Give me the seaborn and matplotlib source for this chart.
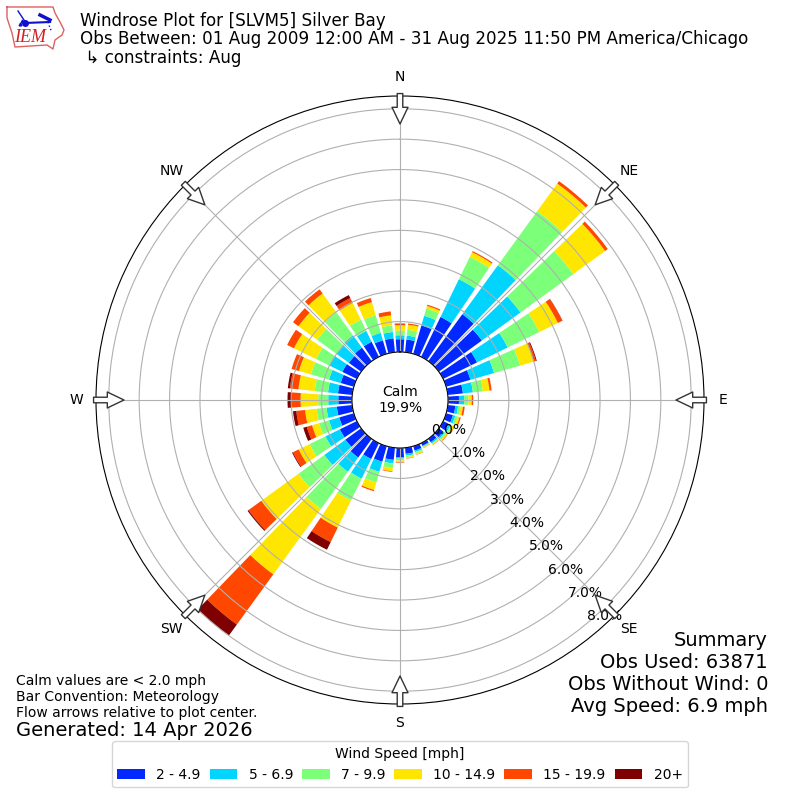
import numpy as np
import matplotlib
matplotlib.use("Agg")
import matplotlib.pyplot as plt
import seaborn as sns

# wind direction in degrees, bar every 10 deg
directions = np.arange(0, 360, 10)

# cumulative percent at the outer end of each speed bin
upto_5 = [.42, .42, .97, 1.46, 1.91, 1.75, 1.24, .83, .5, .36, .25, .23, .2, .18, .14, .1, .15, .2,
          .3, .4, .53, .58, .76, .64, .62, .5, .51, .45, .47, .45, .53, .5, .55, .55, .46, .46]
upto_7 = [.55, .55, 1.3, 2.84, 3.9, 3.32, 2.36, 1.64, .83, .53, .34, .31, .28, .24, .19, .13, .2, .26,
          .35, .52, .88, 1.3, 1.34, 1.5, 1.15, .85, .85, .78, .8, .85, 1.02, 1.0, 1.05, .95, .72, .67]
upto_10 = [.7, .74, 1.55, 3.66, 6.1, 5.47, 3.52, 2.53, 1.16, .67, .42, .39, .34, .3, .22, .15, .25, .31,
           .41, .67, 1.24, 2.1, 2.85, 2.55, 1.73, 1.19, 1.18, 1.11, 1.24, 1.47, 1.49, 1.79, 1.98, 1.36, 1.32, .89]
upto_15 = [.88, .91, 1.64, 3.83, 7.22, 6.76, 4.2, 3.0, 1.38, .78, .5, .46, .4, .34, .25, .17, .29, .35,
           .46, .78, 1.5, 3.09, 5.51, 4.06, 2.13, 1.43, 1.56, 1.69, 1.78, 1.88, 2.3, 2.55, 2.75, 1.97, 1.77, 1.22]
upto_20 = [.94, .95, 1.68, 3.87, 7.32, 6.87, 4.36, 3.07, 1.45, .83, .56, .5, .42, .36, .26, .18, .3, .36,
           .48, .8, 1.54, 3.62, 7.55, 4.58, 2.34, 1.61, 1.85, 1.98, 2.06, 2.13, 2.55, 2.77, 2.92, 2.15, 1.91, 1.35]
upto_max = [.94, .95, 1.68, 3.87, 7.32, 6.87, 4.37, 3.1, 1.45, .83, .56, .5, .42, .36, .26, .18, .3, .36,
            .48, .8, 1.54, 3.9, 8.0, 4.62, 2.37, 1.73, 1.96, 2.12, 2.13, 2.13, 2.55, 2.77, 2.92, 2.26, 1.91, 1.35]

speed_labels = ["2 - 4.9", "5 - 6.9", "7 - 9.9", "10 - 14.9", "15 - 19.9", "20+"]
speed_colors = ["#0028ff", "#00d4ff", "#7cff79", "#ffe600", "#ff4700", "#7f0000"]
compass = ["N", "NE", "E", "SE", "S", "SW", "W", "NW"]

fig = plt.figure(figsize=(8, 8), dpi=100)
ax = fig.add_axes([96 / 800, 96 / 800, 608 / 800, 608 / 800], projection="polar")
ax.set_theta_zero_location("N")
ax.set_theta_direction(-1)

cumulative = np.array([upto_5, upto_7, upto_10, upto_15, upto_20, upto_max])
bottoms = np.zeros(len(directions))
theta = np.radians(directions)
for i in range(6):
    sns.barplot(x=theta, y=cumulative[i] - bottoms, bottom=bottoms, native_scale=True, color=speed_colors[i],
                saturation=1, linewidth=0, errorbar=None, label=speed_labels[i], legend=False, ax=ax)
    bottoms = cumulative[i]

ax.set_xlabel("")
ax.set_ylabel("")
ax.set_xlim(0, 2 * np.pi)
ax.set_thetagrids(np.arange(0, 360, 45), compass)
ax.set_yticks(np.arange(0, 9))
ax.set_yticklabels([f"{v:.1f}%" for v in range(9)])
ax.set_rlabel_position(140)
ax.set_ylim(0, 8.42)
ax.set_rorigin(-1.58)
ax.grid(True)

# hollow arrows pointing at the plot center
for a in np.radians(np.arange(0, 360, 45)):
    ax.annotate("", xy=(a, 7.5), xytext=(a, 8.5), annotation_clip=False, zorder=5,
                arrowprops=dict(arrowstyle="simple,head_length=1.2,head_width=1.15,tail_width=0.4",
                                fc="white", ec="#333333", lw=1, shrinkA=0, shrinkB=0, mutation_scale=10))

ax.text(0, -1.58, "Calm\n19.9%", ha="center", va="center", fontsize=10)

fig.text(80 / 800, 1 - 12 / 800, "Windrose Plot for [SLVM5] Silver Bay\n"
         "Obs Between: 01 Aug 2009 12:00 AM - 31 Aug 2025 11:50 PM America/Chicago\n"
         " \u21b3 constraints: Aug", fontsize=12.02, va="top", ha="left", linespacing=1.03)
fig.text(16 / 800, 1 - 720 / 800, "Calm values are < 2.0 mph\nBar Convention: Meteorology\n"
         "Flow arrows relative to plot center.", fontsize=10, va="bottom", ha="left")
fig.text(16 / 800, 1 - 740 / 800, "Generated: 14 Apr 2026", fontsize=14, va="bottom", ha="left")
fig.text(768 / 800, 1 - 716 / 800, "Summary\nObs Used: 63871\nObs Without Wind: 0\nAvg Speed: 6.9 mph",
         fontsize=14, va="bottom", ha="right", multialignment="right")

handles, labels = ax.get_legend_handles_labels()
fig.legend(handles, labels, title="Wind Speed [mph]", ncol=6, loc="lower center", columnspacing=0.65,
           bbox_to_anchor=(0.5, 0.007), fontsize=10, title_fontsize=10)

# rough IEM logo, drawn in pixel coordinates
logo = fig.add_axes([0, 1 - 55 / 800, 70 / 800, 55 / 800])
logo.set_xlim(0, 70)
logo.set_ylim(55, 0)
logo.axis("off")
logo.plot([7, 53, 55, 60, 64, 62, 55, 53, 47, 15, 12, 7, 7], [7, 7, 13, 22, 30, 35, 40, 49, 45, 47, 33, 18, 7],
          color="#e06060", lw=1)
logo.plot([25, 50], [23, 22], color="#1010d0", lw=1.5)
logo.plot([18, 22, 26], [11, 17, 23], color="#1010d0", lw=1)
logo.plot([40, 50], [15, 20], color="#1010d0", lw=2.5)
logo.plot([48, 50, 52], [22, 28, 32], color="#1010d0", lw=1, ls=":")
logo.plot([25], [23], "o", color="#1010d0", ms=4)
logo.plot([20, 22], [24, 21], "^", color="#1010d0", ms=2)
logo.text(30, 38, "IEM", color="#d02020", fontsize=13, style="italic", family="Liberation Serif", ha="center", va="center")

fig.savefig("out.png", dpi=100)
